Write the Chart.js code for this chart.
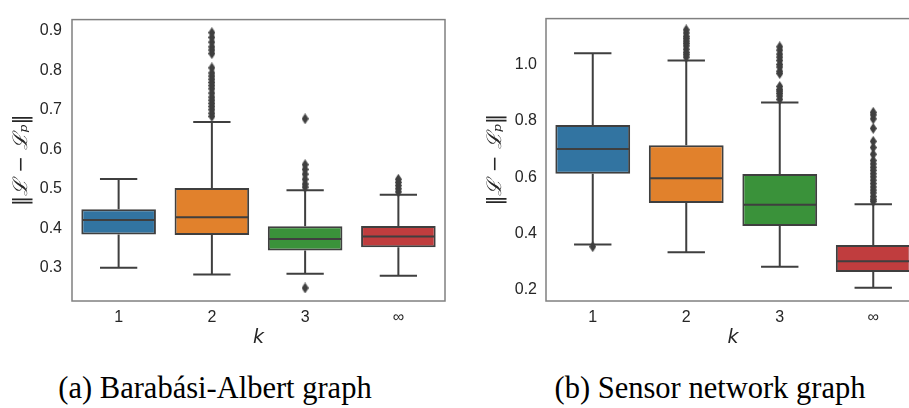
<!DOCTYPE html>
<html>
<head>
<meta charset="utf-8">
<script src="https://cdn.jsdelivr.net/npm/chart.js@4/dist/chart.umd.min.js"></script>
<style>
  html, body { margin: 0; padding: 0; background: #fff; width: 909px; height: 408px; overflow: hidden; position: relative; }
  canvas { position: absolute; top: 0; }
  #cvA { left: 0; }
  #cvB { left: 450px; }
  .caption { position: absolute; top: 368px; width: 420px; text-align: center;
             font-family: "Liberation Serif", "DejaVu Serif", serif; font-size: 30.5px; color: #000; line-height: 40px; white-space: nowrap; }
  #capA { left: 5px; }
  #capB { left: 500px; }
</style>
</head>
<body>
<canvas id="cvA" width="455" height="350"></canvas>
<canvas id="cvB" width="480" height="350"></canvas>
<div class="caption" id="capA">(a) Barabási-Albert graph</div>
<div class="caption" id="capB">(b) Sensor network graph</div>
<script>
// categories on the x axis (number of hops k)
const categories = ['1', '2', '3', '∞'];
const boxColors = ['#3274a1', '#e1812c', '#3a923a', '#c03d3e'];

// (a) Barabási-Albert graph: box statistics per k
const baWhiskerLow = [0.300, 0.283, 0.285, 0.280];
const baQ1         = [0.384, 0.383, 0.344, 0.352];
const baMedian     = [0.421, 0.428, 0.373, 0.379];
const baQ3         = [0.448, 0.502, 0.405, 0.406];
const baWhiskerHigh= [0.525, 0.669, 0.496, 0.485];
const baOutliers1 = [];
const baOutliers2 = [0.683, 0.691, 0.700, 0.708, 0.716, 0.724, 0.732, 0.742, 0.753, 0.761, 0.769,
                     0.777, 0.785, 0.793, 0.806, 0.842, 0.851, 0.859, 0.871, 0.883, 0.895];
const baOutliers3 = [0.249, 0.504, 0.512, 0.524, 0.537, 0.549, 0.561, 0.677];
const baOutliers4 = [0.492, 0.500, 0.508, 0.516, 0.524];
const baTicks = [0.3, 0.4, 0.5, 0.6, 0.7, 0.8, 0.9];

// (b) Sensor network graph: box statistics per k
const snWhiskerLow = [0.362, 0.334, 0.283, 0.208];
const snQ1         = [0.613, 0.509, 0.427, 0.264];
const snMedian     = [0.701, 0.597, 0.503, 0.302];
const snQ3         = [0.786, 0.714, 0.612, 0.360];
const snWhiskerHigh= [1.041, 1.015, 0.866, 0.505];
const snOutliers1 = [0.354];
const snOutliers2 = [1.027, 1.036, 1.044, 1.055, 1.067, 1.076, 1.084, 1.093, 1.101, 1.113, 1.124];
const snOutliers3 = [0.877, 0.889, 0.898, 0.906, 0.912, 0.923, 0.969, 0.977, 0.992, 1.001,
                     1.015, 1.027, 1.038, 1.052, 1.064];
const snOutliers4 = [0.515, 0.522, 0.532, 0.545, 0.555, 0.566, 0.578, 0.590, 0.602, 0.613, 0.625,
                     0.636, 0.648, 0.660, 0.682, 0.706, 0.728, 0.774, 0.808, 0.822, 0.831];
const snTicks = [0.2, 0.4, 0.6, 0.8, 1.0];

const lineColor = '#3f3f3f';
const textColor = '#262626';

// thin diamond marker for fliers
const diamond = document.createElement('canvas');
diamond.width = 7; diamond.height = 11;
(function () {
  const c = diamond.getContext('2d');
  c.fillStyle = lineColor;
  c.beginPath();
  c.moveTo(3.5, 0); c.lineTo(7, 5.5); c.lineTo(3.5, 11); c.lineTo(0, 5.5);
  c.closePath(); c.fill();
})();

// whiskers, caps and medians drawn on top of the box bars
const boxWhiskers = {
  id: 'boxWhiskers',
  afterDatasetDraw(chart, args) {
    const ds = chart.data.datasets[args.index];
    if (!ds.stats) return;
    const y = chart.scales.y;
    const ctx = chart.ctx;
    ctx.save();
    ctx.strokeStyle = lineColor;
    ctx.lineWidth = 2;
    ctx.lineCap = 'butt';
    args.meta.data.forEach((bar, i) => {
      const x = bar.x, w = bar.width;
      const yLo = y.getPixelForValue(ds.stats.low[i]);
      const yQ1 = y.getPixelForValue(ds.stats.q1[i]);
      const yMed = y.getPixelForValue(ds.stats.median[i]);
      const yQ3 = y.getPixelForValue(ds.stats.q3[i]);
      const yHi = y.getPixelForValue(ds.stats.high[i]);
      ctx.beginPath();
      ctx.moveTo(x, yQ3); ctx.lineTo(x, yHi);
      ctx.moveTo(x, yQ1); ctx.lineTo(x, yLo);
      ctx.moveTo(x - w / 4, yHi); ctx.lineTo(x + w / 4, yHi);
      ctx.moveTo(x - w / 4, yLo); ctx.lineTo(x + w / 4, yLo);
      ctx.moveTo(x - w / 2 + 1, yMed); ctx.lineTo(x + w / 2 - 1, yMed);
      ctx.stroke();
    });
    ctx.restore();
  }
};

// full frame around the plotting area
const frame = {
  id: 'frame',
  afterDraw(chart) {
    const a = chart.chartArea, ctx = chart.ctx;
    ctx.save();
    ctx.strokeStyle = '#808080';
    ctx.lineWidth = 1.5;
    ctx.strokeRect(a.left, a.top, a.right - a.left, a.bottom - a.top);
    ctx.restore();
  }
};

function makeChart(canvasId, s) {
  const outlierPoints = [];
  s.outliers.forEach((list, i) => list.forEach(v => outlierPoints.push({ x: categories[i], y: v })));
  return new Chart(document.getElementById(canvasId), {
    type: 'bar',
    data: {
      labels: categories,
      datasets: [
        {
          type: 'bar',
          order: 2,
          data: categories.map((c, i) => [s.q1[i], s.q3[i]]),
          backgroundColor: boxColors,
          borderColor: lineColor,
          borderWidth: 2,
          borderSkipped: false,
          categoryPercentage: 1,
          barPercentage: 0.8,
          stats: { low: s.low, q1: s.q1, median: s.median, q3: s.q3, high: s.high }
        },
        {
          type: 'line',
          order: 1,
          data: outlierPoints,
          showLine: false,
          pointStyle: diamond,
          pointRadius: 5,
          pointBackgroundColor: lineColor,
          pointBorderColor: lineColor
        }
      ]
    },
    options: {
      responsive: false,
      animation: false,
      devicePixelRatio: 1,
      layout: { padding: { top: 10, right: s.padRight, left: 0, bottom: 0 } },
      plugins: { legend: { display: false }, tooltip: { enabled: false } },
      scales: {
        x: {
          grid: { display: false, drawTicks: false },
          border: { display: false },
          ticks: { color: textColor, padding: 7, font: { family: 'Liberation Sans', size: 16 } },
          title: { display: true, text: 'k', color: textColor, padding: { top: 0, bottom: 1 },
                   font: { family: 'DejaVu Sans', size: 19, style: 'italic' } },
          afterFit(scale) { scale.height = 49; }
        },
        y: {
          min: s.min, max: s.max,
          grid: { display: false, drawTicks: false },
          border: { display: false },
          afterBuildTicks(scale) { scale.ticks = s.ticks.map(v => ({ value: v })); },
          ticks: { color: textColor, padding: s.tickPad, font: { family: 'Liberation Sans', size: 16 },
                   callback: v => Number(v).toFixed(1) },
          title: { display: true, text: '‖ℒ − ℒₚ‖', color: textColor, padding: { top: s.titlePad, bottom: 0 },
                   font: { family: 'DejaVu Serif', size: 20, style: 'italic' } },
          afterFit(scale) { scale.width = s.axisWidth; }
        }
      }
    },
    plugins: [boxWhiskers, frame]
  });
}

makeChart('cvA', {
  low: baWhiskerLow, q1: baQ1, median: baMedian, q3: baQ3, high: baWhiskerHigh,
  outliers: [baOutliers1, baOutliers2, baOutliers3, baOutliers4],
  ticks: baTicks, min: 0.216, max: 0.928,
  axisWidth: 72, tickPad: 10, titlePad: 10, padRight: 10
});

makeChart('cvB', {
  low: snWhiskerLow, q1: snQ1, median: snMedian, q3: snQ3, high: snWhiskerHigh,
  outliers: [snOutliers1, snOutliers2, snOutliers3, snOutliers4],
  ticks: snTicks, min: 0.161, max: 1.164,
  axisWidth: 96, tickPad: 9, titlePad: 34, padRight: 10
});
</script>
</body>
</html>
